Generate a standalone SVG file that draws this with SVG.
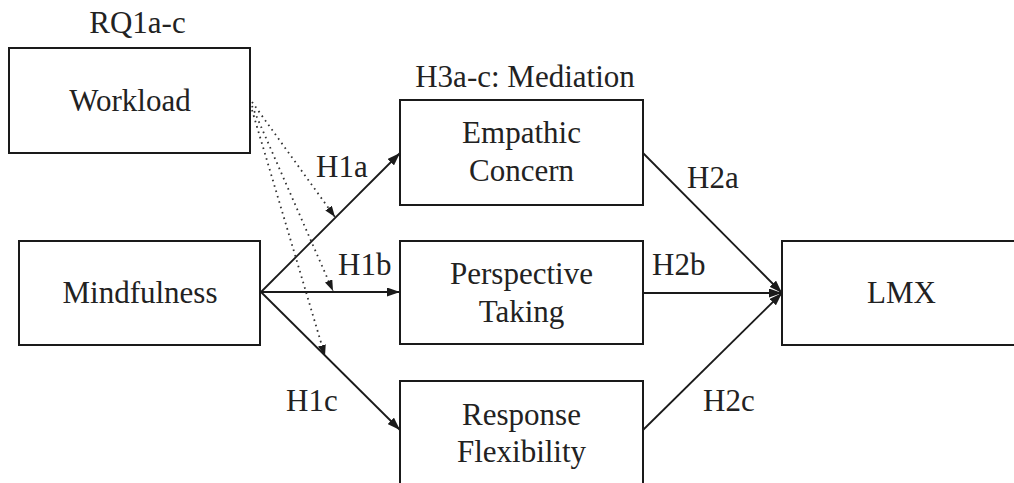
<svg xmlns="http://www.w3.org/2000/svg" width="1014" height="483" viewBox="0 0 1014 483" font-family="'Liberation Serif', 'Times New Roman', Tinos, 'DejaVu Serif', serif">
  <style>
    .box { fill: #ffffff; stroke: #1a1a1a; stroke-width: 2; }
    .t { font-family: 'Liberation Serif', 'Times New Roman', Tinos, 'DejaVu Serif', serif; font-size: 31px; fill: #222222; }
    .c { text-anchor: middle; }
    .ln { stroke: #1a1a1a; stroke-width: 1.8; fill: none; }
    .dot { stroke: #333333; stroke-width: 1.8; fill: none; stroke-dasharray: 1.6 4; }
  </style>
  <defs>
    <marker id="arr" markerUnits="userSpaceOnUse" markerWidth="13" markerHeight="9" refX="13" refY="4.5" orient="auto">
      <path d="M0,0 L13,4.5 L0,9 z" fill="#1a1a1a"/>
    </marker>
    <marker id="arrd" markerUnits="userSpaceOnUse" markerWidth="11" markerHeight="8" refX="11" refY="4" orient="auto">
      <path d="M0,0 L11,4 L0,8 z" fill="#1a1a1a"/>
    </marker>
  </defs>
  <rect width="1014" height="483" fill="#ffffff"/>

  <g id="connectors">
    <line class="ln" x1="261" y1="292" x2="400" y2="153" marker-end="url(#arr)"/>
    <line class="ln" x1="261" y1="292" x2="400" y2="292" marker-end="url(#arr)"/>
    <line class="ln" x1="261" y1="292" x2="400" y2="430" marker-end="url(#arr)"/>
    <line class="ln" x1="643" y1="153" x2="782" y2="293" marker-end="url(#arr)"/>
    <line class="ln" x1="643" y1="293" x2="782" y2="293" marker-end="url(#arr)"/>
    <line class="ln" x1="643" y1="430" x2="782" y2="293" marker-end="url(#arr)"/>
    <line class="dot" x1="252" y1="102" x2="335" y2="217" marker-end="url(#arrd)"/>
    <line class="dot" x1="252" y1="106" x2="333" y2="291" marker-end="url(#arrd)"/>
    <line class="dot" x1="252" y1="110" x2="325" y2="356" marker-end="url(#arrd)"/>
    <text class="t" x="316" y="177">H1a</text>
    <text class="t" x="338" y="275">H1b</text>
    <text class="t" x="286" y="411">H1c</text>
    <text class="t" x="687" y="188">H2a</text>
    <text class="t" x="652" y="275">H2b</text>
    <text class="t" x="703" y="411">H2c</text>
  </g>

  <g id="workload">
    <text class="t c" x="137.5" y="33">RQ1a-c</text>
    <rect class="box" x="9" y="48" width="241" height="105"/>
    <text class="t c" x="130" y="111">Workload</text>
  </g>

  <g id="mindfulness">
    <rect class="box" x="19" y="241" width="241" height="104"/>
    <text class="t c" x="140" y="303">Mindfulness</text>
  </g>

  <g id="empathic-concern">
    <text class="t c" x="525" y="87">H3a-c: Mediation</text>
    <rect class="box" x="400" y="100" width="243" height="105"/>
    <text class="t c" x="521.5" y="143">Empathic</text>
    <text class="t c" x="521.5" y="181">Concern</text>
  </g>

  <g id="perspective-taking">
    <rect class="box" x="400" y="241" width="243" height="103"/>
    <text class="t c" x="521.5" y="284">Perspective</text>
    <text class="t c" x="521.5" y="322">Taking</text>
  </g>

  <g id="response-flexibility">
    <rect class="box" x="400" y="381" width="243" height="110"/>
    <text class="t c" x="521.5" y="425">Response</text>
    <text class="t c" x="521.5" y="462">Flexibility</text>
  </g>

  <g id="lmx">
    <rect class="box" x="782" y="241" width="245" height="104"/>
    <text class="t c" x="901.5" y="303">LMX</text>
  </g>
</svg>
